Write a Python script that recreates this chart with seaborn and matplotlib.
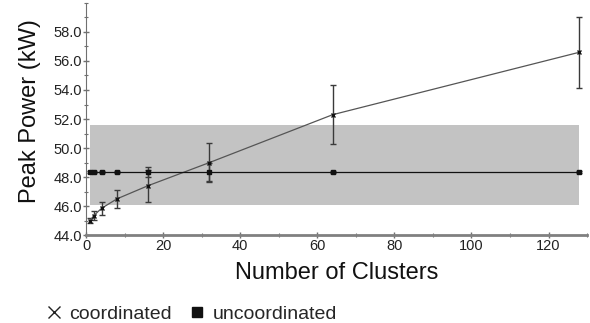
import numpy as np
import pandas as pd
import seaborn as sns
import matplotlib.pyplot as plt
from matplotlib.lines import Line2D
from matplotlib.ticker import MultipleLocator, FormatStrFormatter

# values
clusters = [1, 2, 4, 8, 16, 32, 64, 128]
coord_mean = [45.0, 45.35, 45.85, 46.5, 47.4, 49.0, 52.3, 56.6]
coord_err = [0.17, 0.28, 0.45, 0.6, 1.1, 1.35, 2.05, 2.45]
uncoord_mean = [48.35, 48.35, 48.35, 48.35, 48.35, 48.35, 48.35, 48.35]
uncoord_err = [0.05, 0.05, 0.05, 0.1, 0.35, 0.6, 0.05, 0.05]
band_low, band_high = 46.05, 51.6

df = pd.DataFrame({
    "clusters": clusters * 2,
    "power": coord_mean + uncoord_mean,
    "err": coord_err + uncoord_err,
    "strategy": ["coordinated"] * len(clusters) + ["uncoordinated"] * len(clusters),
})

sns.set_style("ticks")
plt.rcParams["font.family"] = ["Liberation Sans", "DejaVu Sans"]

fig = plt.figure(figsize=(5.9, 3.23), dpi=100)
ax = fig.add_axes([0.146, 0.272, 0.849, 0.719])

ax.fill_between([clusters[0], clusters[-1]], band_low, band_high,
                color="#c3c3c3", linewidth=0, zorder=0)

colors = {"coordinated": "#555555", "uncoordinated": "#111111"}
markers = {"coordinated": "x", "uncoordinated": "s"}
msize = {"coordinated": 3.5, "uncoordinated": 2.8}
for name, sub in df.groupby("strategy"):
    ax.errorbar(sub["clusters"], sub["power"], yerr=sub["err"], fmt="none",
                ecolor="#3a3a3a", elinewidth=1, capsize=2.5, capthick=1, zorder=2)
    sns.lineplot(data=sub, x="clusters", y="power", color=colors[name],
                 marker=markers[name], linewidth=0.9, markersize=msize[name],
                 markeredgewidth=1, markeredgecolor="#111111",
                 legend=False, ax=ax, zorder=3)

ax.set_xlim(0, 130)
ax.set_ylim(44, 60)
ax.xaxis.set_major_locator(MultipleLocator(20))
ax.xaxis.set_minor_locator(MultipleLocator(10))
ax.yaxis.set_major_locator(MultipleLocator(2))
ax.yaxis.set_minor_locator(MultipleLocator(1))
ax.yaxis.set_major_formatter(FormatStrFormatter("%.1f"))
ax.set_yticks([44, 46, 48, 50, 52, 54, 56, 58])

for side in ["top", "right"]:
    ax.spines[side].set_visible(False)
ax.spines["left"].set_color("#707070")
ax.spines["bottom"].set_color("#808080")
ax.spines["bottom"].set_linewidth(2)
ax.tick_params(axis="both", which="major", length=4, width=1, color="#707070",
               labelsize=10.5, labelcolor="#222222", pad=1, direction="inout")
ax.tick_params(axis="both", which="minor", length=3, width=0.8, color="#707070",
               direction="inout")

ax.set_xlabel("Number of Clusters", fontsize=17, color="#111111", labelpad=6.5)
ax.set_ylabel("Peak Power (kW)", fontsize=17, color="#111111")
ax.yaxis.set_label_coords(-0.09, 0.535)

handles = [
    Line2D([], [], color="#222222", marker="x", linestyle="none", markersize=8, markeredgewidth=1),
    Line2D([], [], color="#111111", marker="s", linestyle="none", markersize=7),
]
fig.legend(handles, ["coordinated", "uncoordinated"], loc="lower left",
           bbox_to_anchor=(0.055, -0.035), ncol=2, frameon=False, fontsize=14,
           handletextpad=0.3, columnspacing=0.8, handlelength=1.0, borderaxespad=0.2)

fig.savefig("out.png", dpi=100)
